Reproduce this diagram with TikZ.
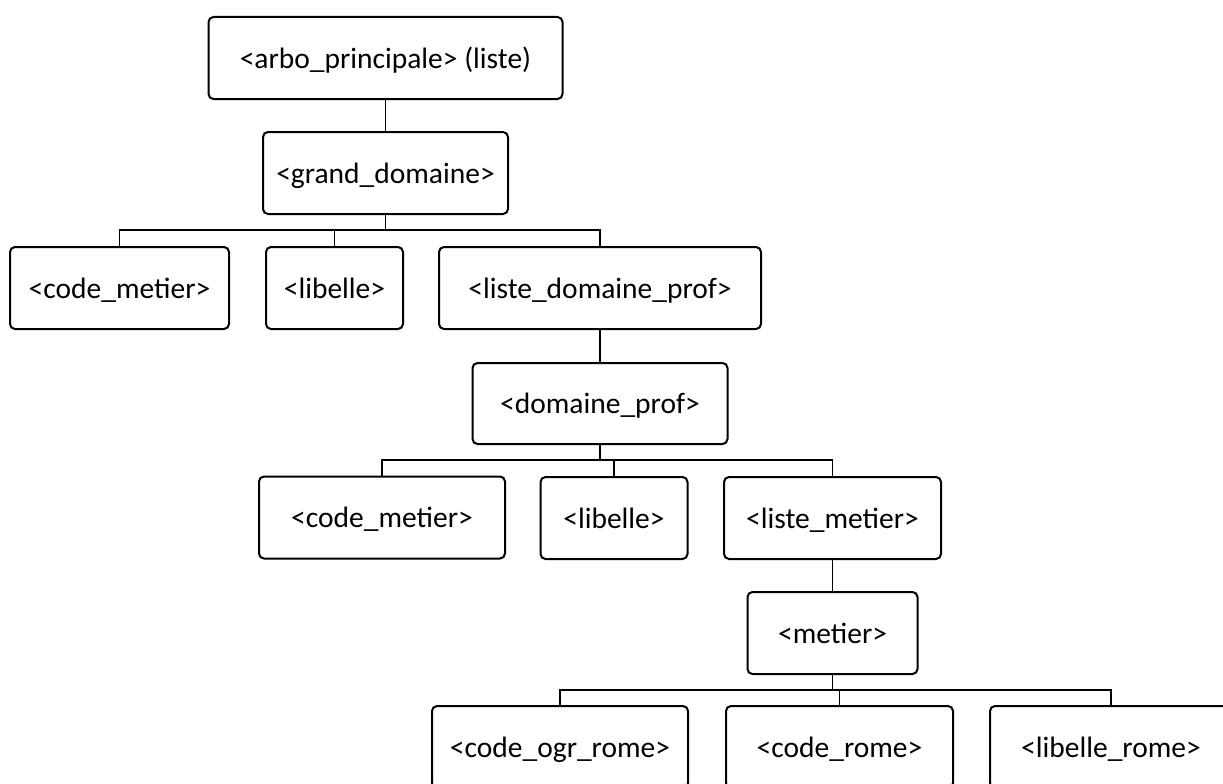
\documentclass[tikz,border=0pt]{standalone}
\usepackage{fontspec}
\setmainfont{Carlito}

\tikzset{box/.style={
    	draw, line width=2pt, rounded corners=5pt,
    	minimum height=82pt, inner sep=0pt,
    	text height=22pt, text depth=2pt,
    	font=\fontsize{29.5}{34}\selectfont
  	},
  	link/.style={line width=1.8pt},
  	bus/.style={line width=1.2pt}
}

\begin{document}
\begin{tikzpicture}[x=1pt, y=-1pt]
		\useasboundingbox (0,0) rectangle (1223,784);
		\clip (0,0) rectangle (1223,784);
		% level 1 and 2
		\node [box, minimum width=354pt] (arbo) at (385.5,58) {<arbo\_principale> (liste)};
		\node [box, minimum width=245pt] (grand) at (385.5,173) {<grand\_domaine>};
		\node [box, minimum width=219pt] (gdcode) at (119.5,288) {<code\_metier>};
		\node [box, minimum width=137pt] (gdlib) at (334.5,288) {<libelle>};
		\node [box, minimum width=322pt] (gdliste) at (600,288) {<liste\_domaine\_prof>};
		% domaine_prof
		\node [box, minimum width=255pt, minimum height=81pt] (dom) at (600,403.5) {<domaine\_prof>};
		\node [box, minimum width=246pt] (dpcode) at (382,517.5) {<code\_metier>};
		\node [box, minimum width=147pt] (dplib) at (614,518) {<libelle>};
		\node [box, minimum width=217pt] (dpliste) at (832.5,518) {<liste\_metier>};
		% metier
		\node [box, minimum width=170pt] (metier) at (832.5,633) {<metier>};
		\node [box, minimum width=256pt] (ogr) at (560,747) {<code\_ogr\_rome>};
		\node [box, minimum width=227pt] (rome) at (839.5,747) {<code\_rome>};
		\node [box, minimum width=242pt] (romelib) at (1111,747) {<libelle\_rome>};

		\coordinate (gdbus) at (385.5,230);
		\coordinate (dpbus) at (600,460);
		\coordinate (mbus) at (832.5,690);

		\draw [link] (arbo.south) -- (grand.north);
		\draw [link] (gdliste.south) -- (dom.north);
		\draw [link] (dpliste.south) -- (metier.north);

		\draw [bus] (grand.south) -- (gdbus);
		\foreach \c in {gdcode, gdlib, gdliste}
			\draw [bus] (gdbus) -| (\c.north);
		\draw [bus] (dom.south) -- (dpbus);
		\foreach \c in {dpcode, dplib, dpliste}
			\draw [bus] (dpbus) -| (\c.north);
		\draw [bus] (metier.south) -- (mbus);
		\foreach \c in {ogr, rome, romelib}
			\draw [bus] (mbus) -| (\c.north);
	\end{tikzpicture}
\end{document}
